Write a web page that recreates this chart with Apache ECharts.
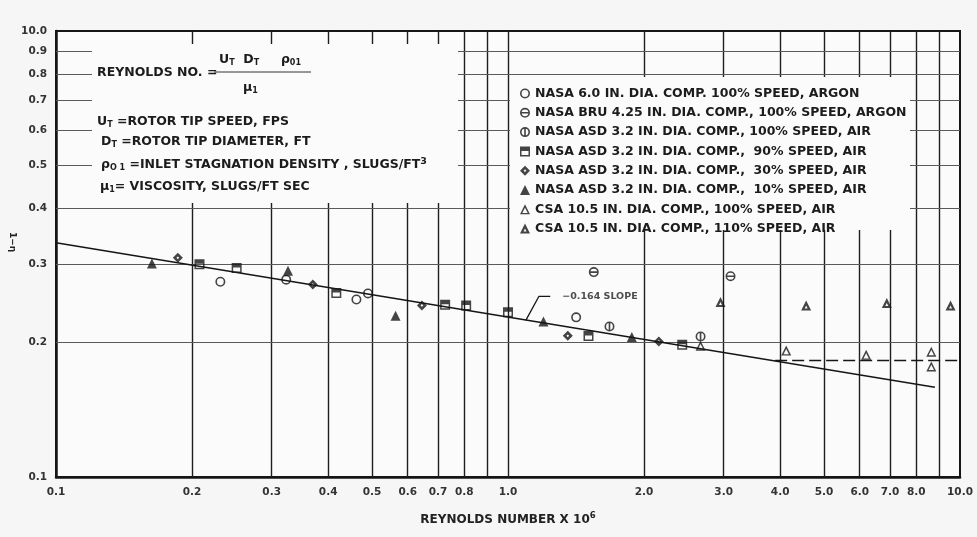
<!DOCTYPE html>
<html><head><meta charset="utf-8">
<script src="https://cdn.jsdelivr.net/npm/echarts@6/dist/echarts.min.js"></script>
<style>html,body{margin:0;padding:0;background:#f6f6f6}#c{width:977px;height:537px}</style>
</head><body><div id="c"></div>
<script>
// ---- axis ticks ----
const xLabelValues = [0.1,0.2,0.3,0.4,0.5,0.6,0.7,0.8,1,2,3,4,5,6,7,8,10];
const xLabelTexts  = ['0.1','0.2','0.3','0.4','0.5','0.6','0.7','0.8','1.0','2.0','3.0','4.0','5.0','6.0','7.0','8.0','10.0'];
const xGridValues  = [0.2,0.3,0.4,0.5,0.6,0.7,0.8,0.9,1,2,3,4,5,6,7,8,9];
const yLabelValues = [0.1,0.2,0.3,0.4,0.5,0.6,0.7,0.8,0.9,1.0];
const yLabelTexts  = ['0.1','0.2','0.3','0.4','0.5','0.6','0.7','0.8','0.9','10.0'];
const yGridValues  = [0.2,0.3,0.4,0.5,0.6,0.7,0.8,0.9];

// ---- series names ----
const seriesNames = [
  'NASA 6.0 IN. DIA. COMP. 100% SPEED, ARGON',
  'NASA BRU 4.25 IN. DIA. COMP., 100% SPEED, ARGON',
  'NASA ASD 3.2 IN. DIA. COMP., 100% SPEED, AIR',
  'NASA ASD 3.2 IN. DIA. COMP.,  90% SPEED, AIR',
  'NASA ASD 3.2 IN. DIA. COMP.,  30% SPEED, AIR',
  'NASA ASD 3.2 IN. DIA. COMP.,  10% SPEED, AIR',
  'CSA 10.5 IN. DIA. COMP., 100% SPEED, AIR',
  'CSA 10.5 IN. DIA. COMP., 110% SPEED, AIR'
];

// ---- data [Reynolds number x 1e-6, 1-eta] ----
const nasa60Argon = [[0.231,0.274],[0.323,0.277],[0.462,0.250],[0.49,0.258],[1.415,0.228]];
const nasaBruArgon = [[1.548,0.288],[3.107,0.282]];
const asd100 = [[1.677,0.2175],[2.667,0.2066]];
const asd90 = [[0.2077,0.300],[0.251,0.294],[0.417,0.2585],[0.726,0.2434],[0.808,0.2425],[1.0,0.234],[1.507,0.2071],[2.429,0.1979]];
const asd30 = [[0.186,0.310],[0.370,0.270],[0.645,0.2425],[1.356,0.2073],[2.156,0.2013]];
const asd10 = [[0.163,0.301],[0.326,0.290],[0.564,0.230],[1.198,0.2233],[1.879,0.206]];
const csa100 = [[2.667,0.197],[4.126,0.1921],[6.2,0.1879],[8.64,0.191],[8.64,0.177]];
const csa110 = [[2.952,0.2468],[4.567,0.2425],[6.887,0.2455],[9.53,0.2425]];

const slopeLine = [[0.1,0.335],[8.8,0.159]];
const plateauLine = [[3.9,0.1825],[10,0.1825]];
const slopeLeader = [[1.24,0.254],[1.17,0.254],[1.095,0.2245]];
const slopeNote = [[1.24,0.254]];
const slopeNoteText = '\u22120.164 SLOPE';

// ---- symbols ----
const RING = 'M0,-5A5,5 0 1,1 0,5A5,5 0 1,1 0,-5ZM0,-3.4A3.4,3.4 0 1,0 0,3.4A3.4,3.4 0 1,0 0,-3.4Z';
const symbols = [
  'path://' + RING,
  'path://' + RING + 'M-3.4,-0.8L3.4,-0.8L3.4,0.8L-3.4,0.8Z',
  'path://' + RING + 'M-0.8,-5L0.8,-5L0.8,5L-0.8,5Z',
  'path://M-5,-5L5,-5L5,5L-5,5ZM-3.5,-0.5L-3.5,3.5L3.5,3.5L3.5,-0.5Z',
  'path://M0,-5.5L5.5,0L0,5.5L-5.5,0ZM0,-1.5L-1.5,0L0,1.5L1.5,0Z',
  'triangle',
  'path://M0,-5L5,5L-5,5ZM0,-1.6L-2.7,3.6L2.7,3.6Z',
  'path://M0,-5L5,5L-5,5ZM0,0L-1.5,3L1.5,3Z'
];
const seriesData = [nasa60Argon, nasaBruArgon, asd100, asd90, asd30, asd10, csa100, csa110];

const FONT = 'DejaVu Sans';
const INK = '#161616';
const TXT = '#1c1c1c';
const PLOTBG = '#fbfbfb';

function lookup(vals, texts, v) {
  let best = 0, bd = Infinity;
  vals.forEach((t, i) => { const d = Math.abs(Math.log10(t) - Math.log10(v)); if (d < bd) { bd = d; best = i; } });
  return bd < 0.01 ? texts[best] : '';
}

const scatterSeries = seriesNames.map((name, i) => ({
  name: name, type: 'scatter', data: seriesData[i], symbol: symbols[i],
  symbolSize: 10, z: 4, itemStyle: { color: INK }, animation: false
}));

const richText = {
  g: { fontFamily: FONT, fontWeight: 'bold', fontSize: 12.5, color: TXT, lineHeight: 15 },
  s: { fontFamily: FONT, fontWeight: 'bold', fontSize: 8, color: TXT, lineHeight: 9, verticalAlign: 'bottom' },
  p: { fontFamily: FONT, fontWeight: 'bold', fontSize: 9.5, color: TXT, lineHeight: 9, verticalAlign: 'top' }
};
function rtext(x, y, t) {
  return { type: 'text', left: x, top: y, z: 5, style: { text: t, rich: richText, fill: TXT, font: 'bold 12.5px "DejaVu Sans"' } };
}

const option = {
  backgroundColor: '#f6f6f6',
  animation: false,
  grid: { left: 56, top: 31, width: 904, height: 446, show: true, backgroundColor: PLOTBG, borderColor: INK, borderWidth: 2 },
  xAxis: {
    type: 'log', logBase: 10, min: 0.1, max: 10,
    name: '{t|REYNOLDS NUMBER X 10}{p|6}', nameLocation: 'middle', nameGap: 34,
    nameTextStyle: { fontFamily: FONT, fontWeight: 'bold', fontSize: 12, color: '#222',
      rich: {
        t: { fontFamily: FONT, fontWeight: 'bold', fontSize: 12, color: '#222', lineHeight: 17 },
        p: { fontFamily: FONT, fontWeight: 'bold', fontSize: 8.5, color: '#222', verticalAlign: 'top', lineHeight: 9 }
      } },
    axisLine: { show: true, lineStyle: { color: INK, width: 2.5 } },
    axisTick: { show: false },
    splitLine: { show: false },
    minorTick: { show: false }, minorSplitLine: { show: false },
    axisLabel: { customValues: xLabelValues, formatter: v => lookup(xLabelValues, xLabelTexts, v), margin: 10,
      fontFamily: FONT, fontWeight: 'bold', fontSize: 10.5, color: '#333', showMinLabel: true, showMaxLabel: true, hideOverlap: false }
  },
  yAxis: {
    type: 'log', logBase: 10, min: 0.1, max: 1,
    axisLine: { show: true, lineStyle: { color: INK, width: 2.5 } },
    axisTick: { show: false },
    splitLine: { show: false },
    minorTick: { show: false }, minorSplitLine: { show: false },
    axisLabel: { customValues: yLabelValues, formatter: v => lookup(yLabelValues, yLabelTexts, v), margin: 9,
      fontFamily: FONT, fontWeight: 'bold', fontSize: 10.5, color: '#333', showMinLabel: true, showMaxLabel: true, hideOverlap: false }
  },
  legend: {
    orient: 'vertical', left: 515, top: 82, itemGap: 6.3, itemWidth: 10, itemHeight: 10,
    selectedMode: false,
    data: seriesNames.map((n, i) => ({ name: n, icon: symbols[i] })),
    textStyle: { fontFamily: FONT, fontWeight: 'bold', fontSize: 12.5, color: TXT }
  },
  graphic: [
    { type: 'rect', shape: { x: 92, y: 44, width: 366, height: 159 }, style: { fill: PLOTBG }, z: 2, silent: true },
    { type: 'rect', shape: { x: 510, y: 77, width: 400, height: 153 }, style: { fill: PLOTBG }, z: 2, silent: true },
    rtext(97, 66, '{g|REYNOLDS NO. =}'),
    rtext(219, 53, '{g|U}{s|T}  {g|D}{s|T}     {g|\u03c1}{s|01}'),
    { type: 'line', shape: { x1: 214, y1: 72, x2: 311, y2: 72 }, style: { stroke: '#333', lineWidth: 1 }, z: 5, silent: true },
    rtext(243, 81, '{g|\u03bc}{s|1}'),
    rtext(97, 115, '{g|U}{s|T} {g|=ROTOR TIP SPEED, FPS}'),
    rtext(101, 135, '{g|D}{s|T} {g|=ROTOR TIP DIAMETER, FT}'),
    rtext(101, 157, '{g|\u03c1}{s|O 1} {g|=INLET STAGNATION DENSITY , SLUGS/FT}{p|3}'),
    rtext(100, 180, '{g|\u03bc}{s|1}{g|= VISCOSITY, SLUGS/FT SEC}'),
    { type: 'text', x: 17, y: 232, rotation: -Math.PI / 2, z: 5,
      style: { text: '1\u2212\u03b7', font: 'bold 9px "DejaVu Sans"', fill: '#222' } }
  ],
  series: [
    { type: 'line', data: [], z: 1, silent: true,
      markLine: { z: 1, symbol: ['none', 'none'], silent: true, animation: false, label: { show: false },
        lineStyle: { color: '#1e1e1e', width: 1.4, type: 'solid' },
        data: xGridValues.map(v => ({ xAxis: v }))
          .concat(yGridValues.map(v => ({ yAxis: v, lineStyle: { color: '#5a5a5a', width: 1.1, type: 'solid' } }))) } },
    { name: 'slope', type: 'line', data: slopeLine, symbol: 'none', z: 3, lineStyle: { color: INK, width: 1.6 } },
    { name: 'plateau', type: 'line', data: plateauLine, symbol: 'none', z: 3, lineStyle: { color: INK, width: 1.6, type: [12, 5] } },
    { name: 'leader', type: 'line', data: slopeLeader, symbol: 'none', z: 3, lineStyle: { color: INK, width: 1.3 } },
    { name: 'note', type: 'scatter', data: slopeNote, symbolSize: 0, z: 5,
      label: { show: true, position: 'right', distance: 12, formatter: slopeNoteText,
        fontFamily: FONT, fontWeight: 'bold', fontSize: 9.5, color: '#222' } }
  ].concat(scatterSeries)
};
const chart = echarts.init(document.getElementById('c'), null, { renderer: 'canvas' });
chart.setOption(option);
</script>
</body></html>
